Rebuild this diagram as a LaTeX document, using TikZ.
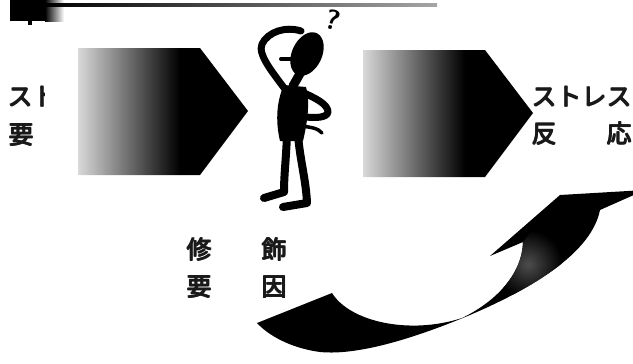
\documentclass[tikz,border=0pt]{standalone}
\usepackage{fontspec}
\newfontfamily\jp{Noto Sans CJK JP}
\usetikzlibrary{shadings}

% heavy gothic: the same text printed four times, slightly shifted
\newcommand\heavy[1]{\makebox[0pt][l]{#1}\makebox[0pt][l]{\kern1.3pt #1}%
  \makebox[0pt][l]{\raisebox{1pt}{#1}}\kern1.3pt\raisebox{1pt}{#1}}

% gray to black, flat black past the middle
\pgfdeclarehorizontalshading{stressfade}{100bp}{color(0bp)=(black!15); color(25bp)=(black!15); color(55bp)=(black); color(100bp)=(black)}

\tikzset{
  pent/.style={shading=stressfade},
  limb/.style={line width=7pt, line cap=round, line join=round},
  label/.style={inner sep=0pt, anchor=west, text=black!90,
    font=\jp\fontsize{25}{27}\selectfont}
}

\begin{document}
\begin{tikzpicture}[x=1pt,y=-1pt]
\useasboundingbox (0,0) rectangle (633,364);

% header bar
\fill[black] (10,0) rectangle (46,21);
\shade[left color=black, right color=white] (45,0) rectangle (64,21);
\fill[black] (28,20) rectangle (32,25);
\shade[left color=black, right color=black!35] (46,3.8) rectangle (437,6.6);

% the two block arrows
\shade[pent] (78,48) -- (200,48) -- (248,111) -- (200,175) -- (78,175) -- cycle;
\shade[pent] (363,50) -- (485,50) -- (533,113) -- (485,177) -- (363,177) -- cycle;

% labels
\begin{scope}
\clip (0,70) rectangle (44,115);
\draw (7,97) node[label] (stressL) {\heavy{スト}};
\end{scope}
\draw (8,135) node[label] (factorL) {\heavy{要}};
\draw (531,97) node[label] (stressR) {\heavy{ストレス}};
\draw (531,134) node[label] (reaction) {\heavy{反　　応}};
\draw (186,249) node[label] (modify) {\heavy{修　　飾}};
\draw (186,287) node[label] (factor) {\heavy{要　　因}};

% thinking man
\begin{scope}[black]
\fill[rotate around={-25:(307,54)}] (307,54) ellipse (15 and 23);
\draw[line width=4pt, line cap=round] (281,59) -- (296,59);
\draw[line width=9pt, line cap=round] (302,70) -- (293,86);
\fill (284,85) .. controls (277,100) and (275,120) .. (280,141) -- (303,141)
  .. controls (308,120) and (310,100) .. (306,87) -- cycle;
\draw[limb] (287,92) .. controls (275,75) and (257,55) .. (262,44)
  .. controls (268,32) and (285,26) .. (301,31);
\draw[limb] (302,92) .. controls (315,98) and (328,104) .. (328,112)
  .. controls (327,118) and (315,118) .. (306,117);
\draw[line width=3.5pt, line cap=round] (300,126) .. controls (310,127) and (318,128) .. (322,133);
\draw[limb, line width=8pt] (287,135) .. controls (286,160) and (284,175) .. (284,192) -- (264,198);
\draw[limb, line width=8pt] (298,135) .. controls (300,160) and (306,180) .. (307,203) -- (283,207);
\draw (333,20) node[font=\sffamily\bfseries\fontsize{28}{28}\selectfont, rotate=-15] (puzzled) {?};
\end{scope}

% feedback swoosh
\path[fill=black] (257,323) -- (332,293) .. controls (350,322) and (410,335) .. (462,318)
  .. controls (495,302) and (522,275) .. (523,242) -- (490,256) -- (560,195)
  -- (645,190) -- (600,210) .. controls (592,250) and (540,285) .. (470,315)
  .. controls (420,336) and (360,356) .. (320,352) .. controls (290,348) and (268,335) .. cycle;
\begin{scope}
\clip (462,318) .. controls (495,302) and (522,275) .. (523,242) -- (560,195)
  -- (600,210) .. controls (592,250) and (540,285) .. (470,315) -- cycle;
\shade[inner color=black!70, outer color=black] (528,264) circle (34);
\end{scope}
\end{tikzpicture}
\end{document}
